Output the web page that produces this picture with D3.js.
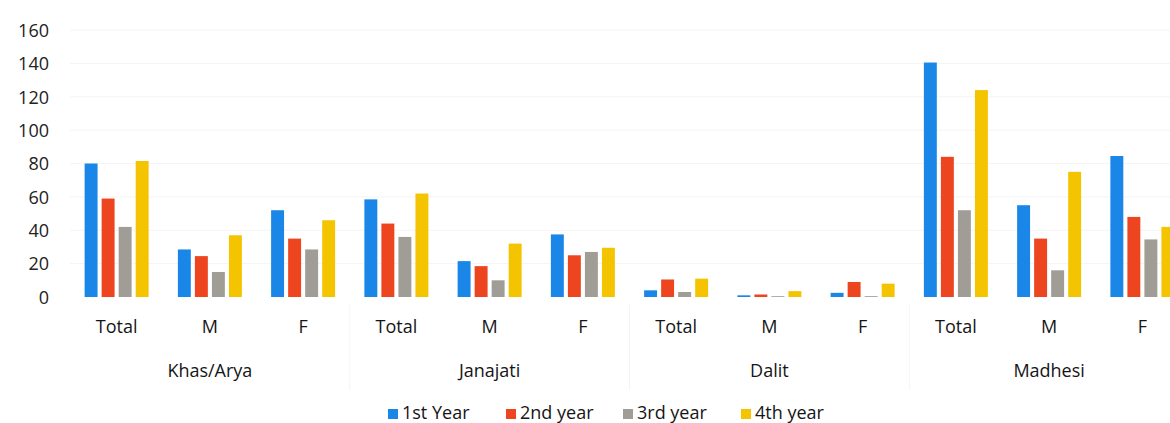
<!DOCTYPE html>
<html>
<head>
<meta charset="utf-8">
<script src="https://cdn.jsdelivr.net/npm/d3@7"></script>
<style>
  html, body { margin: 0; padding: 0; background: #fff; overflow: hidden; }
  text { font-family: "Open Sans", Lato, sans-serif; fill: #151515; }
</style>
</head>
<body>
<svg id="chart" width="1170" height="423"></svg>
<script>
const groups = ["Khas/Arya", "Janajati", "Dalit", "Madhesi"];
const subCategories = ["Total", "M", "F"];
const seriesNames = ["1st Year", "2nd year", "3rd year", "4th year"];
const seriesColors = ["#1a86e8", "#ec4520", "#a09d97", "#f5c400"];
const yTicks = [0, 20, 40, 60, 80, 100, 120, 140, 160];

// values per series, in order: Khas/Arya T,M,F, Janajati T,M,F, Dalit T,M,F, Madhesi T,M,F
const year1 = [80, 28.5, 52, 58.5, 21.5, 37.5, 4, 1, 2.5, 140.5, 55, 84.5];
const year2 = [59, 24.5, 35, 44, 18.5, 25, 10.5, 1.5, 9, 84, 35, 48];
const year3 = [42, 15, 28.5, 36, 10, 27, 3, 0.5, 0.5, 52, 16, 34.5];
const year4 = [81.5, 37, 46, 62, 32, 29.5, 11, 3.5, 8, 124, 75, 42];
const seriesValues = [year1, year2, year3, year4];

const categories = [];
groups.forEach(g => subCategories.forEach(s => categories.push({group: g, sub: s, key: g + "|" + s})));

const svg = d3.select("#chart");
const x = d3.scaleBand().domain(categories.map(c => c.key)).range([70, 1189]).padding(0);
const xInner = d3.scaleBand().domain(seriesNames).range([-32, 32]).paddingInner(0.24).paddingOuter(0);
const y = d3.scaleLinear().domain([0, 160]).range([297, 30]);

// faint gridlines
svg.append("g").selectAll("line").data(yTicks.slice(1)).join("line")
  .attr("x1", 70).attr("x2", 1170)
  .attr("y1", d => y(d)).attr("y2", d => y(d))
  .attr("stroke", "#f4f4f4").attr("stroke-width", 1);

// y axis labels
const yAxis = d3.axisLeft(y).tickValues(yTicks).tickSize(0).tickPadding(0);
const yg = svg.append("g").attr("transform", "translate(49,0)").call(yAxis);
yg.select(".domain").remove();
yg.selectAll("text").style("font-size", "18px").style("font-family", "'Open Sans', sans-serif")
  .style("fill", "#222").attr("dy", "0.35em");

// bars
const barG = svg.append("g");
seriesNames.forEach((name, si) => {
  barG.append("g").selectAll("rect").data(categories).join("rect")
    .attr("x", (c) => x(c.key) + x.bandwidth() / 2 + xInner(name))
    .attr("width", xInner.bandwidth())
    .attr("y", (c, i) => y(seriesValues[si][i]))
    .attr("height", (c, i) => y(0) - y(seriesValues[si][i]))
    .attr("fill", seriesColors[si]);
});

// category labels
svg.append("g").selectAll("text").data(categories).join("text")
  .attr("x", c => x(c.key) + x.bandwidth() / 2)
  .attr("y", 333)
  .attr("text-anchor", "middle")
  .style("font-size", "18px")
  .text(c => c.sub);

// group separators (faint)
const groupBounds = groups.slice(1).map(g => x(g + "|Total"));
svg.append("g").selectAll("line").data(groupBounds).join("line")
  .attr("x1", d => d).attr("x2", d => d)
  .attr("y1", 305).attr("y2", 390)
  .attr("stroke", "#f4f4f4");

// group labels
svg.append("g").selectAll("text").data(groups).join("text")
  .attr("x", g => {
    const a = x(g + "|Total"), b = x(g + "|F") + x.bandwidth();
    return (a + b) / 2;
  })
  .attr("y", 377)
  .attr("text-anchor", "middle")
  .style("font-size", "18px")
  .text(g => g);

// legend
const legendX = [388, 506, 623, 741];
const lg = svg.append("g");
seriesNames.forEach((name, i) => {
  lg.append("rect").attr("x", legendX[i]).attr("y", 409).attr("width", 10).attr("height", 10)
    .attr("fill", seriesColors[i]);
  lg.append("text").attr("x", legendX[i] + 14).attr("y", 419)
    .style("font-size", "18px").text(name);
});
</script>
</body>
</html>
